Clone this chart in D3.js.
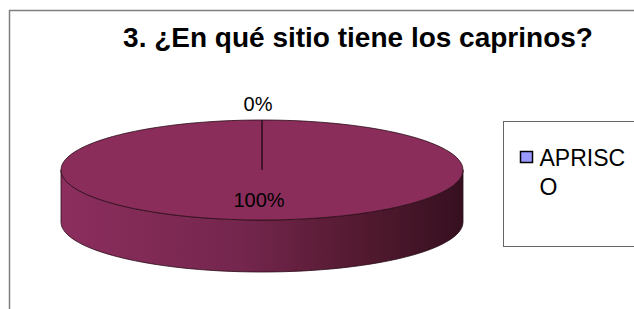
<!DOCTYPE html>
<html>
<head>
<meta charset="utf-8">
<script src="https://cdn.jsdelivr.net/npm/d3@7"></script>
<style>
  body { margin: 0; background: #fff; }
  svg { display: block; font-family: "Liberation Sans", Arial, sans-serif; }
</style>
</head>
<body>
<div id="chart"></div>
<script>
var title = "3. ¿En qué sitio tiene los caprinos?";
var categories = ["APRISCO", ""];
var values = [0, 100];
var colors = ["#9999FF", "#8B2D5B"];

var width = 634, height = 309;
var cx = 262, cy = 170, rx = 201, ry = 50, depth = 52;

var svg = d3.select('#chart')
  .append('svg')
  .attr('width', width)
  .attr('height', height);

// chart frame
svg.append('path')
  .attr('d', 'M9.5,' + height + 'V10.5H' + width)
  .attr('fill', 'none')
  .attr('stroke', '#7f7f7f')
  .attr('stroke-width', 1.5);

svg.append('text')
  .attr('x', 358)
  .attr('y', 47)
  .attr('text-anchor', 'middle')
  .attr('font-size', 28)
  .attr('font-weight', 'bold')
  .text(title);

var color = d3.scaleOrdinal().domain(categories).range(colors);
var pct = d3.format('.0%');
var total = d3.sum(values);

var pie = d3.pie().sort(null).value((d) => d.value);
var slices = pie(categories.map((c, i) => ({ name: c, value: values[i] })));

// point on the ellipse for pie angle a (0 = top, clockwise)
function pt(a, k, dy) {
  return [cx + rx * k * Math.sin(a), cy - ry * k * Math.cos(a) + (dy || 0)];
}

var defs = svg.append('defs');
var grad = defs.append('linearGradient')
  .attr('id', 'side')
  .attr('gradientUnits', 'userSpaceOnUse')
  .attr('x1', cx - rx).attr('x2', cx + rx)
  .attr('y1', 0).attr('y2', 0);
grad.append('stop').attr('offset', '0%').attr('stop-color', '#8C2E5E');
grad.append('stop').attr('offset', '45%').attr('stop-color', '#74264D');
grad.append('stop').attr('offset', '75%').attr('stop-color', '#52192F');
grad.append('stop').attr('offset', '100%').attr('stop-color', '#361020');

var line = d3.line();

// side walls (front half only: angles between PI/2 and 3PI/2)
slices.forEach((d) => {
  if (d.value === 0) return;
  var a0 = Math.max(d.startAngle, Math.PI / 2);
  var a1 = Math.min(d.endAngle, 3 * Math.PI / 2);
  if (a1 <= a0) return;
  var top = d3.range(0, 61).map((i) => pt(a0 + (a1 - a0) * i / 60, 1, 0));
  var bot = top.slice().reverse().map((p) => [p[0], p[1] + depth]);
  svg.append('path')
    .attr('d', line(top.concat(bot)) + 'Z')
    .attr('fill', 'url(#side)')
    .attr('stroke', '#2a0c18')
    .attr('stroke-width', 0.8);
});

// top faces
slices.forEach((d) => {
  var n = 120;
  var pts = d3.range(0, n + 1).map((i) => pt(d.startAngle + (d.endAngle - d.startAngle) * i / n, 1));
  if (d.endAngle - d.startAngle < 2 * Math.PI - 1e-6) pts = [[cx, cy]].concat(pts);
  svg.append('path')
    .attr('d', line(pts) + 'Z')
    .attr('fill', color(d.data.name))
    .attr('stroke', '#2a0c18')
    .attr('stroke-width', 0.8);
});

// slice boundary line from centre
slices.forEach((d) => {
  var p = pt(d.startAngle, 1);
  svg.append('line')
    .attr('x1', cx).attr('y1', cy)
    .attr('x2', p[0]).attr('y2', p[1])
    .attr('stroke', '#2a0c18')
    .attr('stroke-width', 1);
});

// data labels
slices.forEach((d) => {
  var mid = (d.startAngle + d.endAngle) / 2;
  var p = d.value === 0 ? pt(mid, 1.33) : pt(mid, 0.6);
  svg.append('text')
    .attr('x', p[0] - (d.value === 0 ? 4 : 3))
    .attr('y', p[1])
    .attr('dy', '0.35em')
    .attr('text-anchor', 'middle')
    .attr('font-size', 20)
    .attr('fill', '#000')
    .text(pct(d.value / total));
});

// legend
var lg = svg.append('g').attr('transform', 'translate(503.5,121.5)');
lg.append('rect')
  .attr('width', 200).attr('height', 125)
  .attr('fill', '#fff')
  .attr('stroke', '#666')
  .attr('stroke-width', 1);

var items = categories.filter((c) => c !== '');
items.forEach((c, i) => {
  lg.append('rect')
    .attr('x', 17).attr('y', 30 + i * 60)
    .attr('width', 12).attr('height', 11)
    .attr('fill', color(c))
    .attr('stroke', '#000')
    .attr('stroke-width', 1.5);
  var t = lg.append('text')
    .attr('x', 36).attr('y', 44 + i * 60)
    .attr('font-size', 23);
  // legend text wraps inside the narrow box
  t.append('tspan').text(c.slice(0, 6));
  t.append('tspan').attr('x', 36).attr('dy', 29).text(c.slice(6));
});
</script>
</body>
</html>
